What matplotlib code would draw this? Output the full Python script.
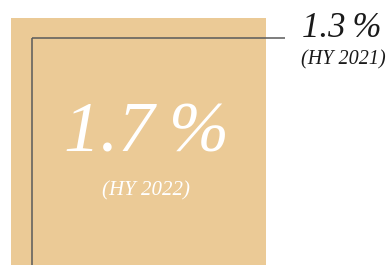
import numpy as np
import matplotlib
matplotlib.use("Agg")
import matplotlib.pyplot as plt
from matplotlib.patches import Rectangle

# Kennzahlen (Anteil in %)
labels = ["HY 2022", "HY 2021"]
values = np.array([1.7, 1.3])

tan = "#EBCA96"
linecol = "#5a5a5a"

fig = plt.figure(figsize=(3.87, 2.65), dpi=100)
ax = fig.add_axes([0, 0, 1, 1])
ax.set_xlim(0, 387)
ax.set_ylim(265, 0)
ax.axis("off")

# Seitenlaenge proportional zur Wurzel des Wertes (Flaeche ~ Wert)
side_big = 255
sides = side_big * np.sqrt(values / values.max())

# grosses Quadrat (aktuell)
x0, y0 = 11, 18
ax.add_patch(Rectangle((x0, y0), sides[0], sides[0], color=tan, lw=0))

# kleines Quadrat (Vorjahr) nur als Ecke + Fuehrungslinie
x1, y1 = 32, 38
ax.plot([x1, x1], [y1 + sides[1] + 20, y1], color=linecol, lw=1.1, solid_capstyle="butt")
ax.plot([x1, x1 + sides[1] + 30], [y1, y1], color=linecol, lw=1.1, solid_capstyle="butt")

font = "Liberation Serif"
ax.text(146, 152, f"{values[0]:.1f}\u2009%", color="white", fontsize=52,
        family=font, style="italic", ha="center", va="baseline")
ax.text(146, 195, f"({labels[0]})", color="white", fontsize=15,
        family=font, style="italic", ha="center", va="baseline")

ax.text(302, 37, f"{values[1]:.1f}\u2009%", color="#1a1a1a", fontsize=25,
        family=font, style="italic", ha="left", va="baseline")
ax.text(301, 64, f"({labels[1]})", color="#1a1a1a", fontsize=14.5,
        family=font, style="italic", ha="left", va="baseline")

fig.savefig("out.png", dpi=100)
